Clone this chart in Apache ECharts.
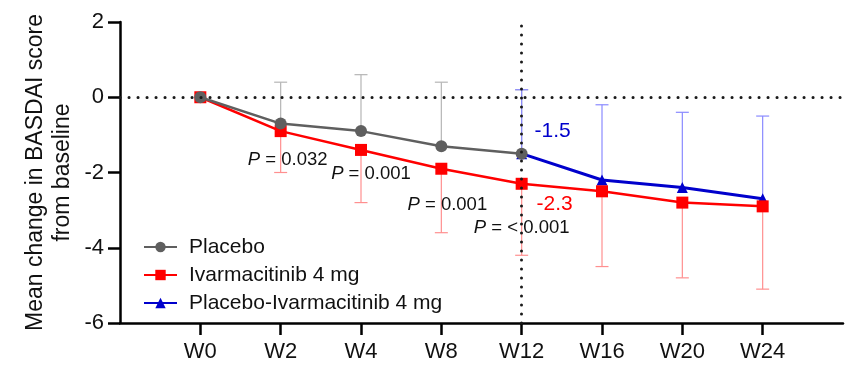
<!DOCTYPE html>
<html><head><meta charset="utf-8">
<script src="https://cdn.jsdelivr.net/npm/echarts@6/dist/echarts.min.js"></script>
<style>html,body{margin:0;padding:0;background:#fff}#c{width:849px;height:378px}</style>
</head><body><div id="c"></div>
<script>
// ---- data ----
const categories = ['W0','W2','W4','W8','W12','W16','W20','W24'];
const placeboCats = ['W0','W2','W4','W8','W12'];
const placeboVals = [0, -0.7, -0.9, -1.3, -1.5];
const placeboUpper = [null, 0.4, 0.6, 0.4, 0.2];
const ivarCats = ['W0','W2','W4','W8','W12','W16','W20','W24'];
const ivarVals = [0, -0.9, -1.4, -1.9, -2.3, -2.5, -2.8, -2.9];
const ivarLower = [null, -2.0, -2.8, -3.6, -4.2, -4.5, -4.8, -5.1];
const switchCats = ['W12','W16','W20','W24'];
const switchVals = [-1.5, -2.2, -2.4, -2.7];
const switchUpper = [0.2, -0.2, -0.4, -0.5];
const seriesNames = ['Placebo', 'Ivarmacitinib 4 mg', 'Placebo-Ivarmacitinib 4 mg'];
const pLabels = ['0.032', '0.001', '0.001', '< 0.001'];
const pAnchors = ['W2', 'W4', 'W8', 'W12'];
const pY = [-1.67, -2.04, -2.86, -3.47];
const diffLabels = ['-1.5', '-2.3'];
const diffY = [-0.9, -2.83];

const FONT = 'Liberation Sans, Arial, sans-serif';
const axisCats = [''].concat(categories, ['']);
const C_GRAY = '#5f5f5f', C_RED = '#ff0000', C_BLUE = '#0000cc';

function pairs(cats, vals) { return cats.map((c, i) => [c, vals[i]]); }

function errSeries(id, cats, vals, ends, color, z) {
  return {
    type: 'custom', id: id, z: z, silent: true,
    data: cats.map((c, i) => [c, vals[i], ends[i]]).filter(d => d[2] != null),
    encode: { x: 0, y: [1, 2] },
    renderItem: function (params, api) {
      const p0 = api.coord([api.value(0), api.value(1)]);
      const p1 = api.coord([api.value(0), api.value(2)]);
      const hw = 6.5;
      return { type: 'group', children: [
        { type: 'line', shape: { x1: p0[0], y1: p0[1], x2: p1[0], y2: p1[1] }, style: { stroke: color, lineWidth: 1.2 } },
        { type: 'line', shape: { x1: p1[0] - hw, y1: p1[1], x2: p1[0] + hw, y2: p1[1] }, style: { stroke: color, lineWidth: 1.2 } }
      ]};
    }
  };
}

const chart = echarts.init(document.getElementById('c'), null, { renderer: 'canvas' });
const option = {
  animation: false,
  textStyle: { fontFamily: FONT },
  grid: { left: 120, right: 6, top: 22, bottom: 55, containLabel: false, outerBoundsMode: 'none' },
  legend: {
    data: seriesNames, orient: 'vertical', left: 138, top: 231,
    itemWidth: 33, itemHeight: 13, itemGap: 6,
    textStyle: { fontSize: 21, color: '#111', fontFamily: FONT, lineHeight: 22, padding: [0, 0, 0, 7] },
    selectedMode: false
  },
  xAxis: {
    type: 'category', data: axisCats, boundaryGap: false,
    axisLine: { onZero: false, lineStyle: { color: '#000', width: 2.5 } },
    axisTick: { length: 12, lineStyle: { color: '#000', width: 2.5 }, interval: (i, v) => v !== '' },
    axisLabel: { fontSize: 22, color: '#111', margin: 18, interval: (i, v) => v !== '', fontFamily: FONT },
    splitLine: { show: false }
  },
  yAxis: {
    type: 'value', min: -6, max: 2, interval: 2,
    name: 'Mean change in BASDAI score\nfrom baseline', nameLocation: 'middle', nameGap: 44,
    nameMoveOverlap: false,
    nameTextStyle: { fontSize: 23, color: '#111', lineHeight: 27, fontFamily: FONT },
    axisLine: { show: true, onZero: false, lineStyle: { color: '#000', width: 2.5 } },
    axisTick: { show: true, length: 12, lineStyle: { color: '#000', width: 2.5 } },
    axisLabel: { fontSize: 22, color: '#111', margin: 16, fontFamily: FONT },
    splitLine: { show: false }
  },
  series: [
    errSeries('errP', placeboCats, placeboVals, placeboUpper, '#b5b5b5', 1),
    errSeries('errI', ivarCats, ivarVals, ivarLower, '#ff8f8f', 1),
    errSeries('errS', switchCats, switchVals, switchUpper, '#8a8aff', 1),
    {
      type: 'line', name: seriesNames[2], data: pairs(switchCats, switchVals), z: 3,
      symbol: 'triangle', symbolSize: 11,
      lineStyle: { color: C_BLUE, width: 3 }, itemStyle: { color: C_BLUE },
      markLine: {
        silent: true, symbol: 'none', label: { show: false }, z: 10,
        lineStyle: { color: '#1a1a1a', width: 3, type: [0.1, 8.9], cap: 'round' },
        data: [{ yAxis: 0 }, { xAxis: 'W12' }]
      }
    },
    {
      type: 'line', name: seriesNames[1], data: pairs(ivarCats, ivarVals), z: 4,
      symbol: 'rect', symbolSize: 12,
      lineStyle: { color: C_RED, width: 2.5 }, itemStyle: { color: C_RED }
    },
    {
      type: 'line', name: seriesNames[0], data: pairs(placeboCats, placeboVals), z: 5,
      symbol: 'circle', symbolSize: 12,
      lineStyle: { color: C_GRAY, width: 2.5 }, itemStyle: { color: C_GRAY }
    }
  ]
};
chart.setOption(option);

// annotations placed at data coordinates
const pDx = [7, 10, 6, 0];
const gfx = [];
pLabels.forEach((t, i) => {
  const p = chart.convertToPixel({ gridIndex: 0 }, [axisCats.indexOf(pAnchors[i]), pY[i]]);
  gfx.push({
    type: 'text', x: p[0] + pDx[i], y: p[1], z: 20,
    style: {
      text: '{i|P} = ' + t, align: 'center', verticalAlign: 'middle',
      fill: '#111', font: '18.5px ' + FONT,
      rich: { i: { fontStyle: 'italic', fontSize: 18.5, fontFamily: FONT, fill: '#111' } }
    }
  });
});
const diffColors = [C_BLUE, C_RED];
const diffDx = [31, 33];
diffLabels.forEach((t, i) => {
  const p = chart.convertToPixel({ gridIndex: 0 }, [axisCats.indexOf('W12'), diffY[i]]);
  gfx.push({
    type: 'text', x: p[0] + diffDx[i], y: p[1], z: 20,
    style: { text: t, align: 'center', verticalAlign: 'middle', fill: diffColors[i], font: '21px ' + FONT }
  });
});
chart.setOption({ graphic: gfx });
</script></body></html>
